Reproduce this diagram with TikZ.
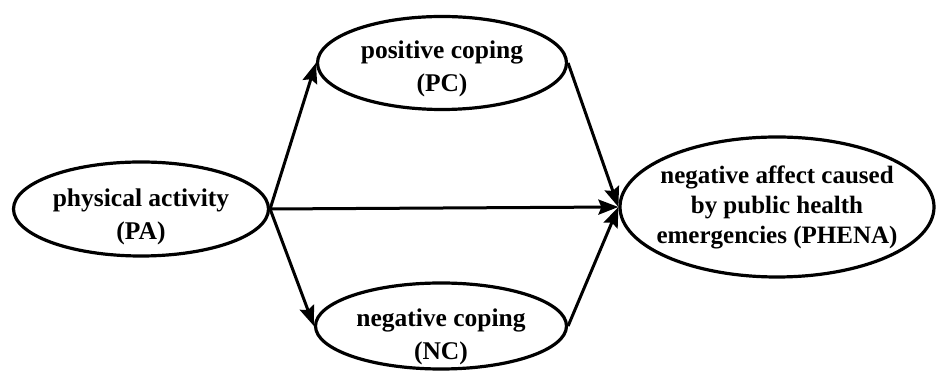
\documentclass[tikz,border=0pt]{standalone}
\usepackage{fontspec}
\setmainfont{Liberation Serif}
\usepackage{tikz}
\usetikzlibrary{
  shapes.geometric,
  arrows.meta,
  positioning
}

\tikzset{
    construct/.style={ellipse, draw=black, line width=3.2pt, fill=white, inner xsep=-60pt, inner ysep=-30pt, align=center,
        font=\fontsize{25.5}{33}\selectfont\bfseries},
    path/.style={line width=3pt, -{Stealth[length=20pt, width=15pt, inset=3pt]}}
}

\begin{document}
\begin{tikzpicture}[x=1pt, y=1pt]
            \useasboundingbox (0,0) rectangle (937,371);
            % constructs
            \node[construct, minimum width=255pt, minimum height=94pt, text height=67pt] (pa) at (141,162) {physical activity\\(PA)};
            \node[construct, minimum width=249pt, minimum height=93pt, text height=62pt] (pc) at (442,308) {positive coping\\(PC)};
            \node[construct, minimum width=251pt, minimum height=86pt, text height=72pt] (nc) at (441,45) {negative coping\\(NC)};
            \node[construct, minimum width=314pt, minimum height=140pt, font=\fontsize{25}{30}\selectfont\bfseries] (phena) at (777,164) {negative affect caused\\by public health\\emergencies (PHENA)};
            % paths
            \draw[path] (pa.east) -- (pc.west);
            \draw[path] (pa.east) -- (nc.west);
            \draw[path] (pa.east) -- (phena.west);
            \draw[path] (pc.east) -- (phena.west);
            \draw[path] (nc.east) -- (phena.west);
        \end{tikzpicture}
\end{document}
